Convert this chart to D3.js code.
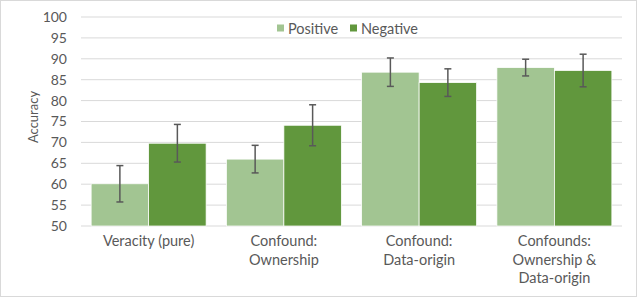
<!DOCTYPE html>
<html>
<head>
<meta charset="utf-8">
<script src="https://cdn.jsdelivr.net/npm/d3@7"></script>
<style>
body{margin:0;background:#fff;}
text{font-family:Lato,"Liberation Sans",sans-serif;fill:#595959;}
</style>
</head>
<body>
<div id="chart"></div>
<script>
var categories = [["Veracity (pure)"], ["Confound:", "Ownership"], ["Confound:", "Data-origin"], ["Confounds:", "Ownership &", "Data-origin"]];
var series = ["Positive", "Negative"];
var positive = [60.1, 66.0, 86.8, 87.9];
var negative = [69.8, 74.1, 84.3, 87.2];
var positiveErr = [4.35, 3.3, 3.4, 2.0];
var negativeErr = [4.5, 4.9, 3.3, 3.9];
var yTicks = [50, 55, 60, 65, 70, 75, 80, 85, 90, 95, 100];
var colors = ["#a2c592", "#61973d"];

function draw(){
    var W = 640, H = 298;
    var svg = d3.select("#chart").append("svg").attr("width", W).attr("height", H);
    svg.append("rect").attr("x", 0.5).attr("y", 0.5).attr("width", W - 4).attr("height", H - 2)
        .attr("fill", "#fff").attr("stroke", "#d9d9d9");

    var y = d3.scaleLinear().domain([50, 100]).range([226, 17]);
    var x0 = d3.scaleBand().domain(d3.range(categories.length)).range([81, 622])
        .paddingInner(0.15).paddingOuter(0.075);
    var x1 = d3.scaleBand().domain(series).range([0, x0.bandwidth()]);

    // gridlines
    svg.selectAll("line.grid").data(yTicks).enter().append("line")
        .attr("x1", 81).attr("x2", 622)
        .attr("y1", function(d){return y(d);}).attr("y2", function(d){return y(d);})
        .attr("stroke", "#d9d9d9").attr("stroke-width", 1);

    var yAxis = svg.append("g").attr("transform", "translate(81,0)")
        .call(d3.axisLeft(y).tickValues(yTicks).tickSize(0).tickPadding(14));
    yAxis.select(".domain").remove();
    yAxis.selectAll("text").style("font-size", "14px").style("font-family", "Lato,sans-serif").attr("fill", "#595959");

    svg.append("text").attr("transform", "translate(37.5,117) rotate(-90)")
        .attr("text-anchor", "middle").style("font-size", "13px").text("Accuracy");

    var data = [];
    for(var i = 0; i < categories.length; i++){
        data.push({c: i, s: "Positive", v: positive[i], e: positiveErr[i], col: colors[0]});
        data.push({c: i, s: "Negative", v: negative[i], e: negativeErr[i], col: colors[1]});
    }

    svg.selectAll("rect.bar").data(data).enter().append("rect")
        .attr("x", function(d){return x0(d.c) + x1(d.s);})
        .attr("y", function(d){return y(d.v);})
        .attr("width", x1.bandwidth())
        .attr("height", function(d){return y(50) - y(d.v);})
        .attr("fill", function(d){return d.col;})
        .attr("stroke", "#fff").attr("stroke-width", 0.75);

    var eb = svg.selectAll("g.err").data(data).enter().append("g")
        .attr("stroke", "#595959").attr("stroke-width", 1.5);
    eb.append("line")
        .attr("x1", function(d){return x0(d.c) + x1(d.s) + x1.bandwidth() / 2;})
        .attr("x2", function(d){return x0(d.c) + x1(d.s) + x1.bandwidth() / 2;})
        .attr("y1", function(d){return y(d.v + d.e);})
        .attr("y2", function(d){return y(d.v - d.e);});
    [1, -1].forEach(function(sgn){
        eb.append("line")
            .attr("x1", function(d){return x0(d.c) + x1(d.s) + x1.bandwidth() / 2 - 3.5;})
            .attr("x2", function(d){return x0(d.c) + x1(d.s) + x1.bandwidth() / 2 + 3.5;})
            .attr("y1", function(d){return y(d.v + sgn * d.e);})
            .attr("y2", function(d){return y(d.v + sgn * d.e);});
    });

    // category labels
    var lab = svg.selectAll("text.cat").data(categories).enter().append("text")
        .attr("text-anchor", "middle").style("font-size", "14.5px")
        .attr("x", function(d, i){return x0(i) + x0.bandwidth() / 2;})
        .attr("y", 246);
    lab.selectAll("tspan").data(function(d){return d;}).enter().append("tspan")
        .attr("x", function(){return d3.select(this.parentNode).attr("x");})
        .attr("dy", function(d, i){return i == 0 ? 0 : 18.5;})
        .text(function(d){return d;});

    // legend
    var legX = [277, 350];
    var leg = svg.selectAll("g.leg").data(series).enter().append("g")
        .attr("transform", function(d, i){return "translate(" + legX[i] + ",24.5)";});
    leg.append("rect").attr("width", 7).attr("height", 7).attr("fill", function(d, i){return colors[i];});
    leg.append("text").attr("x", 11).attr("y", 9.5).style("font-size", "14.5px").text(function(d){return d;});
}
draw();
</script>
</body>
</html>
